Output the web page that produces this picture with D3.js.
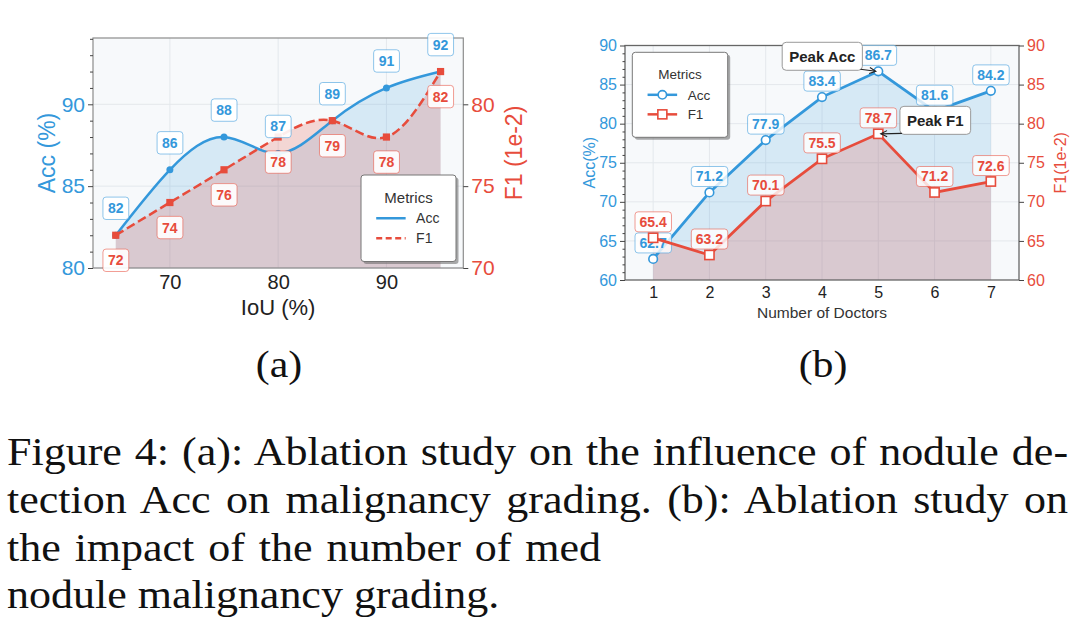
<!DOCTYPE html>
<html><head><meta charset="utf-8">
<script src="https://cdn.jsdelivr.net/npm/d3@7"></script>
<style>body{margin:0;background:#fff}</style>
</head><body><svg id="c" width="1080" height="631" xmlns="http://www.w3.org/2000/svg"></svg>
<script>
// ---------------- data ----------------
const iouLevels = [65, 70, 75, 80, 85, 90, 95];
const accA = [82, 86, 88, 87, 89, 91, 92];
const f1A = [72, 74, 76, 78, 79, 78, 82];
const doctorCounts = [1, 2, 3, 4, 5, 6, 7];
const accB = [62.7, 71.2, 77.9, 83.4, 86.7, 81.6, 84.2];
const f1B = [65.4, 63.2, 70.1, 75.5, 78.7, 71.2, 72.6];
const xTicksA = [70, 80, 90];
const accTicksA = [80, 85, 90];
const f1TicksA = [70, 75, 80];
const yTicksB = [60, 65, 70, 75, 80, 85, 90];
const seriesNames = ["Acc", "F1"];
const legendTitle = "Metrics";
const peakNames = ["Peak Acc", "Peak F1"];
const axisTitlesA = ["IoU (%)", "Acc (%)", "F1 (1e-2)"];
const axisTitlesB = ["Number of Doctors", "Acc(%)", "F1(1e-2)"];
const panelLabels = ["(a)", "(b)"];
const captionLines = [
  "Figure 4: (a): Ablation study on the influence of nodule de-",
  "tection Acc on malignancy grading. (b): Ablation study on",
  "the impact of the number of med",
  "nodule malignancy grading."
];

// ---------------- style ----------------
const BLUE = "#3498db", RED = "#e74c3c";
const SANS = "'Liberation Sans', Arial, Helvetica, sans-serif";
const SERIF = "'Liberation Serif', 'Times New Roman', serif";

const svg = d3.select("#c");
svg.append("rect").attr("width", 1080).attr("height", 631).attr("fill", "#fff");

function styleAxis(g, color, size) {
  g.select(".domain").remove();
  g.selectAll(".tick line").attr("stroke", "#444").attr("stroke-width", 1);
  g.selectAll(".tick text").attr("fill", color).style("font-family", SANS).style("font-size", size + "px");
}

function addLabel(g, x, y, text, color, fs, padX, padY, boxOpacity) {
  const lg = g.append("g");
  const rect = lg.append("rect");
  const t = lg.append("text").attr("x", x).attr("y", y).attr("text-anchor", "middle")
    .attr("dy", "0.36em").attr("fill", color).style("font-family", SANS)
    .style("font-weight", "bold").style("font-size", fs + "px").text(text);
  const bb = t.node().getBBox();
  rect.attr("x", bb.x - padX).attr("y", bb.y - padY).attr("width", bb.width + 2 * padX)
    .attr("height", bb.height + 2 * padY).attr("rx", 3).attr("fill", "#fff")
    .attr("fill-opacity", boxOpacity).attr("stroke", color).attr("stroke-opacity", 0.55).attr("stroke-width", 1);
}

function legend(g, x, y, w, h, titleSize, itemSize, items) {
  g.append("rect").attr("x", x + 2.5).attr("y", y + 2.5).attr("width", w).attr("height", h)
    .attr("rx", 3).attr("fill", "#666").attr("fill-opacity", 0.55);
  g.append("rect").attr("x", x).attr("y", y).attr("width", w).attr("height", h)
    .attr("rx", 3).attr("fill", "#fff").attr("stroke", "#777").attr("stroke-width", 1);
  g.append("text").attr("x", x + w / 2).attr("y", y + h * 0.26).attr("dy", "0.36em")
    .attr("text-anchor", "middle").attr("fill", "#333").style("font-family", SANS)
    .style("font-size", titleSize + "px").text(legendTitle);
  items.forEach((it, i) => {
    const ry = y + h * (0.5 + i * 0.23);
    g.append("line").attr("x1", x + w * 0.16).attr("x2", x + w * 0.47).attr("y1", ry).attr("y2", ry)
      .attr("stroke", it.color).attr("stroke-width", 2.5).attr("stroke-dasharray", it.dash || null);
    if (it.marker === "circle") {
      g.append("circle").attr("cx", x + w * 0.315).attr("cy", ry).attr("r", 4.2)
        .attr("fill", "#fff").attr("stroke", it.color).attr("stroke-width", 1.6);
    } else if (it.marker === "square") {
      g.append("rect").attr("x", x + w * 0.315 - 4.5).attr("y", ry - 4.5).attr("width", 9).attr("height", 9)
        .attr("fill", "#fff").attr("stroke", it.color).attr("stroke-width", 1.6);
    }
    g.append("text").attr("x", x + w * 0.58).attr("y", ry).attr("dy", "0.36em").attr("fill", "#333")
      .style("font-family", SANS).style("font-size", itemSize + "px").text(it.name);
  });
}

// ================= Panel (a) =================
{
  const L = 93, R = 463.3, T = 38, B = 268;
  const x = d3.scaleLinear([62.9, 97.1], [L, R]);
  const y = d3.scaleLinear([80, 94.05], [B, T]);
  const y2 = d3.scaleLinear([70, 84.05], [B, T]);
  const g = svg.append("g");
  g.append("rect").attr("x", L).attr("y", T).attr("width", R - L).attr("height", B - T).attr("fill", "#f7f9fb");
  g.selectAll(".gx").data(xTicksA).join("line").attr("x1", d => x(d)).attr("x2", d => x(d))
    .attr("y1", T).attr("y2", B).attr("stroke", "#e4e8ec").attr("stroke-width", 1);
  g.selectAll(".gy").data(accTicksA).join("line").attr("y1", d => y(d)).attr("y2", d => y(d))
    .attr("x1", L).attr("x2", R).attr("stroke", "#e4e8ec").attr("stroke-width", 1);

  const areaAcc = d3.area().x((d, i) => x(iouLevels[i])).y0(y(80)).y1(d => y(d)).curve(d3.curveNatural);
  const areaF1 = d3.area().x((d, i) => x(iouLevels[i])).y0(y2(70)).y1(d => y2(d)).curve(d3.curveNatural);
  g.append("path").attr("d", areaAcc(accA)).attr("fill", BLUE).attr("fill-opacity", 0.17);
  g.append("path").attr("d", areaF1(f1A)).attr("fill", RED).attr("fill-opacity", 0.2);

  const lineAcc = d3.line().x((d, i) => x(iouLevels[i])).y(d => y(d)).curve(d3.curveNatural);
  const lineF1 = d3.line().x((d, i) => x(iouLevels[i])).y(d => y2(d)).curve(d3.curveNatural);
  g.append("path").attr("d", lineAcc(accA)).attr("fill", "none").attr("stroke", BLUE).attr("stroke-width", 2.5);
  g.selectAll(".ma").data(accA).join("circle").attr("cx", (d, i) => x(iouLevels[i])).attr("cy", d => y(d))
    .attr("r", 3.5).attr("fill", BLUE);
  g.append("path").attr("d", lineF1(f1A)).attr("fill", "none").attr("stroke", RED).attr("stroke-width", 2.5)
    .attr("stroke-dasharray", "9,4");
  g.selectAll(".mf").data(f1A).join("rect").attr("x", (d, i) => x(iouLevels[i]) - 3.6).attr("y", d => y2(d) - 3.6)
    .attr("width", 7.2).attr("height", 7.2).attr("fill", RED);

  g.append("rect").attr("x", L).attr("y", T).attr("width", R - L).attr("height", B - T)
    .attr("fill", "none").attr("stroke", "#8c8c8c").attr("stroke-width", 1.2);

  accA.forEach((d, i) => addLabel(g, x(iouLevels[i]), y(d) - 27, d, BLUE, 14, 5, 3.2, 0.9));
  f1A.forEach((d, i) => addLabel(g, x(iouLevels[i]), y2(d) + 25, d, RED, 14, 5, 3.2, 0.9));

  const minor = d3.range(80, 95, 1).filter(v => !accTicksA.includes(v));
  g.append("g").attr("transform", `translate(${L},0)`).call(d3.axisLeft(y).tickValues(minor).tickSize(3).tickFormat(""))
    .call(a => styleAxis(a, BLUE, 20));
  g.append("g").attr("transform", `translate(${L},0)`).call(d3.axisLeft(y).tickValues(accTicksA).tickSize(5).tickPadding(3))
    .call(a => styleAxis(a, BLUE, 21));
  g.append("g").attr("transform", `translate(${R},0)`).call(d3.axisRight(y2).tickValues(f1TicksA).tickSize(5).tickPadding(3))
    .call(a => styleAxis(a, RED, 21));
  g.append("g").attr("transform", `translate(0,${B})`).call(d3.axisBottom(x).tickValues(xTicksA).tickSize(0).tickPadding(7))
    .call(a => styleAxis(a, "#222", 20));

  g.append("text").attr("x", (L + R) / 2).attr("y", 307).attr("dy", "0.36em").attr("text-anchor", "middle")
    .attr("fill", "#222").style("font-family", SANS).style("font-size", "22px").text(axisTitlesA[0]);
  g.append("text").attr("transform", `translate(47,${(T + B) / 2}) rotate(-90)`).attr("dy", "0.36em")
    .attr("text-anchor", "middle").attr("fill", BLUE).style("font-family", SANS).style("font-size", "23px").text(axisTitlesA[1]);
  g.append("text").attr("transform", `translate(514,${(T + B) / 2}) rotate(-90)`).attr("dy", "0.36em")
    .attr("text-anchor", "middle").attr("fill", RED).style("font-family", SANS).style("font-size", "23px").text(axisTitlesA[2]);

  legend(g, 361, 175, 95, 86.5, 15, 14, [
    {name: seriesNames[0], color: BLUE},
    {name: seriesNames[1], color: RED, dash: "6,3.5"}
  ]);
}

// ================= Panel (b) =================
{
  const L = 625, R = 1019, T = 45.5, B = 280;
  const x = d3.scaleLinear([0.5, 7.5], [L, R]);
  const y = d3.scaleLinear([60, 90], [B, T]);
  const g = svg.append("g");
  g.append("rect").attr("x", L).attr("y", T).attr("width", R - L).attr("height", B - T).attr("fill", "#f7f9fb");
  g.selectAll(".gx").data(doctorCounts).join("line").attr("x1", d => x(d)).attr("x2", d => x(d))
    .attr("y1", T).attr("y2", B).attr("stroke", "#e4e8ec").attr("stroke-width", 1);
  g.selectAll(".gy").data(yTicksB.slice(1, -1)).join("line").attr("y1", d => y(d)).attr("y2", d => y(d))
    .attr("x1", L).attr("x2", R).attr("stroke", "#e4e8ec").attr("stroke-width", 1);

  const area = d3.area().x((d, i) => x(doctorCounts[i])).y0(y(60)).y1(d => y(d));
  g.append("path").attr("d", area(accB)).attr("fill", BLUE).attr("fill-opacity", 0.17);
  g.append("path").attr("d", area(f1B)).attr("fill", RED).attr("fill-opacity", 0.2);

  g.append("rect").attr("x", L).attr("y", T).attr("width", R - L).attr("height", B - T)
    .attr("fill", "none").attr("stroke", "#666").attr("stroke-width", 1.3);

  const line = d3.line().x((d, i) => x(doctorCounts[i])).y(d => y(d));
  g.append("path").attr("d", line(accB)).attr("fill", "none").attr("stroke", BLUE).attr("stroke-width", 2.8);
  g.selectAll(".ma").data(accB).join("circle").attr("cx", (d, i) => x(doctorCounts[i])).attr("cy", d => y(d))
    .attr("r", 4.3).attr("fill", "#fff").attr("stroke", BLUE).attr("stroke-width", 1.6);
  accB.forEach((d, i) => addLabel(g, x(doctorCounts[i]), y(d) - 16, d.toFixed(1), BLUE, 14, 4.5, 2, 0.8));

  g.append("path").attr("d", line(f1B)).attr("fill", "none").attr("stroke", RED).attr("stroke-width", 2.8);
  g.selectAll(".mf").data(f1B).join("rect").attr("x", (d, i) => x(doctorCounts[i]) - 4.6).attr("y", d => y(d) - 4.6)
    .attr("width", 9.2).attr("height", 9.2).attr("fill", "#fff").attr("stroke", RED).attr("stroke-width", 1.6);
  f1B.forEach((d, i) => addLabel(g, x(doctorCounts[i]), y(d) - 16, d.toFixed(1), RED, 14, 4.5, 2, 0.8));

  const minor = d3.range(60, 91, 1).filter(v => !yTicksB.includes(v));
  g.append("g").attr("transform", `translate(${L},0)`).call(d3.axisLeft(y).tickValues(minor).tickSize(2.5).tickFormat(""))
    .call(a => styleAxis(a, BLUE, 16));
  g.append("g").attr("transform", `translate(${L},0)`).call(d3.axisLeft(y).tickValues(yTicksB).tickSize(5).tickPadding(3))
    .call(a => styleAxis(a, BLUE, 16));
  g.append("g").attr("transform", `translate(${R},0)`).call(d3.axisRight(y).tickValues(yTicksB).tickSize(5).tickPadding(3))
    .call(a => styleAxis(a, RED, 16));
  g.append("g").attr("transform", `translate(0,${B})`)
    .call(d3.axisBottom(x).tickValues(doctorCounts).tickFormat(d3.format("d")).tickSize(0).tickPadding(7))
    .call(a => styleAxis(a, "#222", 16));

  g.append("text").attr("x", (L + R) / 2).attr("y", 312).attr("dy", "0.36em").attr("text-anchor", "middle")
    .attr("fill", "#333").style("font-family", SANS).style("font-size", "15.5px").text(axisTitlesB[0]);
  g.append("text").attr("transform", `translate(589,${(T + B) / 2}) rotate(-90)`).attr("dy", "0.36em")
    .attr("text-anchor", "middle").attr("fill", BLUE).style("font-family", SANS).style("font-size", "16px").text(axisTitlesB[1]);
  g.append("text").attr("transform", `translate(1060,${(T + B) / 2}) rotate(-90)`).attr("dy", "0.36em")
    .attr("text-anchor", "middle").attr("fill", RED).style("font-family", SANS).style("font-size", "16px").text(axisTitlesB[2]);

  legend(g, 632.3, 52.3, 95.4, 85, 13.5, 13.5, [
    {name: seriesNames[0], color: BLUE, marker: "circle"},
    {name: seriesNames[1], color: RED, marker: "square"}
  ]);

  // peak annotations
  const peakIdxAcc = accB.indexOf(d3.max(accB));
  const peakIdxF1 = f1B.indexOf(d3.max(f1B));
  const peaks = [
    {name: peakNames[0], px: x(doctorCounts[peakIdxAcc]), py: y(accB[peakIdxAcc]), dx: -56, dy: -15},
    {name: peakNames[1], px: x(doctorCounts[peakIdxF1]), py: y(f1B[peakIdxF1]), dx: 57, dy: -13.5}
  ];
  peaks.forEach(p => {
    const cx = p.px + p.dx, cy = p.py + p.dy;
    const ag = g.append("g");
    const rect = ag.append("rect");
    const t = ag.append("text").attr("x", cx).attr("y", cy).attr("dy", "0.36em").attr("text-anchor", "middle")
      .attr("fill", "#222").style("font-family", SANS).style("font-weight", "bold").style("font-size", "15px").text(p.name);
    const bb = t.node().getBBox();
    const bx = bb.x - 7, by = cy - 14, bw = bb.width + 14, bh = 28;
    rect.attr("x", bx).attr("y", by).attr("width", bw).attr("height", bh).attr("rx", 4)
      .attr("fill", "#fff").attr("stroke", "#999").attr("stroke-width", 1);
    // horizontal arrow from the box edge to the point
    const dir = p.px > cx ? 1 : -1;
    const sx = dir > 0 ? bx + bw - 2 : bx + 2;
    const sy = Math.min(p.py, by + bh - 1);
    const ex = p.px - dir * 2.5, ey = p.py;
    ag.append("path").attr("d", `M${sx},${sy}L${ex},${ey}`)
      .attr("fill", "none").attr("stroke", "#222").attr("stroke-width", 1.1);
    const a0 = Math.atan2(ey - sy, ex - sx), hl = 7, ang = 0.45;
    const h1 = [ex - hl * Math.cos(a0 - ang), ey - hl * Math.sin(a0 - ang)];
    const h2 = [ex - hl * Math.cos(a0 + ang), ey - hl * Math.sin(a0 + ang)];
    ag.append("path").attr("d", `M${h1[0]},${h1[1]}L${ex},${ey}L${h2[0]},${h2[1]}`)
      .attr("fill", "none").attr("stroke", "#222").attr("stroke-width", 1.1);
  });
}

// ================= captions =================
const SX = 1.1;
[[panelLabels[0], 279], [panelLabels[1], 823]].forEach(([s, cx]) => {
  svg.append("text").attr("transform", `translate(${cx},377) scale(${SX},1)`).attr("text-anchor", "middle")
    .attr("fill", "#111").style("font-family", SERIF).style("font-size", "38px").text(s);
});

const baselines = [464.5, 512.5, 561, 608];
const lineEnds = [1068, 1068, 601, null];
captionLines.forEach((s, i) => {
  const t = svg.append("text").attr("transform", `translate(7,${baselines[i]}) scale(${SX},1)`).attr("fill", "#111")
    .style("font-family", SERIF).style("font-size", "40px").text(s);
  if (lineEnds[i]) {
    const w = t.node().getComputedTextLength();
    const spaces = (s.match(/ /g) || []).length;
    const target = (lineEnds[i] - 7) / SX;
    t.attr("word-spacing", ((target - w) / spaces).toFixed(2));
  }
});
</script>
</body></html>
